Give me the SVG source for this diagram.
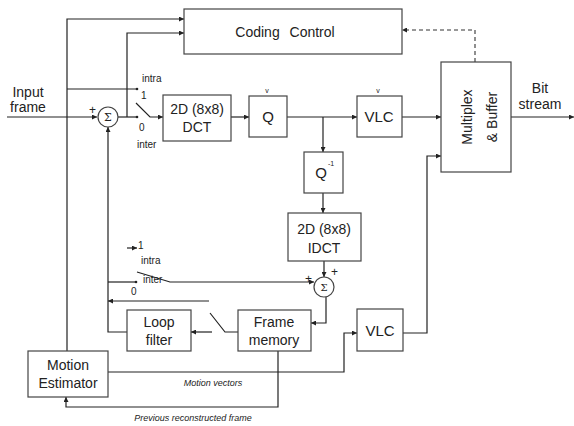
<svg xmlns="http://www.w3.org/2000/svg" width="574" height="426" viewBox="0 0 574 426">
<style>
.b{fill:#fff;stroke:#444;stroke-width:1.2}
.l{fill:none;stroke:#222;stroke-width:1.2}
.d{fill:none;stroke:#333;stroke-width:1.1;stroke-dasharray:4 3}
text{font-family:"Liberation Sans",Arial,sans-serif;fill:#222}
.t{font-size:14px;text-anchor:middle}
.s{font-size:10px}
.i{font-size:9px;font-style:italic;text-anchor:middle}
</style>
<defs>
<marker id="a" viewBox="0 0 8 8" refX="8" refY="4" markerWidth="5" markerHeight="5" orient="auto" markerUnits="userSpaceOnUse">
<path d="M0,0L8,4L0,8z" fill="#222"/>
</marker>
</defs>
<g id="connectors">
<path class="l" d="M67,351V19H184" marker-end="url(#a)"/>
<path class="l" d="M127,117V33H184" marker-end="url(#a)"/>
<path class="l" d="M67,89H137"/>
<circle cx="137" cy="89" r="1.3" fill="#222"/>
<path class="l" d="M7,117H97" marker-end="url(#a)"/>
<path class="l" d="M118,117H137"/>
<circle cx="137" cy="117" r="1.3" fill="#222"/>
<path class="l" d="M136,103L150,117H163" marker-end="url(#a)"/>
<path class="l" d="M231,117H249" marker-end="url(#a)"/>
<path class="l" d="M287,117H357" marker-end="url(#a)"/>
<path class="l" d="M323,117V152" marker-end="url(#a)"/>
<path class="l" d="M323,193V213" marker-end="url(#a)"/>
<path class="l" d="M324,261V277" marker-end="url(#a)"/>
<path class="l" d="M402,117H441" marker-end="url(#a)"/>
<path class="l" d="M511,117H574" marker-end="url(#a)"/>
<path class="d" d="M475,62V30H402" marker-end="url(#a)"/>
<path class="l" d="M403,333H427V156H441" marker-end="url(#a)"/>
<path class="l" d="M108,372H344V333H357" marker-end="url(#a)"/>
<path class="l" d="M278,351V407H66V397" marker-end="url(#a)"/>
<path class="l" d="M127,332H108V127" marker-end="url(#a)"/>
<path class="l" d="M127,248H137" marker-end="url(#a)"/>
<path class="l" d="M108,282H136"/>
<circle cx="136" cy="282" r="1.3" fill="#222"/>
<path class="l" d="M137,272L170,282H314" marker-end="url(#a)"/>
<path class="l" d="M326,297V323H311" marker-end="url(#a)"/>
<path class="l" d="M209,301H108" marker-end="url(#a)"/>
<path class="l" d="M238,332H225L210,313"/>
<path class="l" d="M212,332H191" marker-end="url(#a)"/>
</g>
<g id="coding-control"><rect class="b" x="184" y="9" width="218" height="45"/><text class="t" x="285" y="37" style="font-size:14px;word-spacing:6px">Coding Control</text></g>
<g id="input"><text class="t" x="28" y="97">Input</text><text class="t" x="28" y="112">frame</text></g>
<g id="sum1"><circle class="b" cx="108" cy="117" r="10"/><text x="108" y="121" style="font-size:11px;text-anchor:middle;font-family:'DejaVu Serif',serif">Σ</text><text x="89" y="114" style="font-size:12px">+</text></g>
<g id="switch1"><text class="s" x="142" y="82">intra</text><text class="s" x="141" y="99">1</text><text class="s" x="139" y="131">0</text><text class="s" x="137" y="148">inter</text></g>
<g id="dct"><rect class="b" x="163" y="95" width="68" height="46"/><text class="t" x="197" y="114">2D (8x8)</text><text class="t" x="197" y="132">DCT</text></g>
<g id="q"><rect class="b" x="249" y="96" width="38" height="41"/><text class="t" x="268" y="122" style="font-size:15px">Q</text><text x="267" y="93" style="font-size:7px;text-anchor:middle">v</text></g>
<g id="vlc1"><rect class="b" x="357" y="96" width="45" height="41"/><text class="t" x="379" y="122" style="font-size:15px">VLC</text><text x="378" y="93" style="font-size:7px;text-anchor:middle">v</text></g>
<g id="mux"><rect class="b" x="441" y="62" width="70" height="110"/><text class="t" transform="translate(472,117) rotate(-90)">Multiplex</text><text class="t" transform="translate(497,117) rotate(-90)">&amp; Buffer</text></g>
<g id="bitstream"><text class="t" x="540" y="93">Bit</text><text class="t" x="540" y="109">stream</text></g>
<g id="qinv"><rect class="b" x="304" y="152" width="39" height="41"/><text class="t" x="321" y="178" style="font-size:15px">Q</text><text x="328" y="166" style="font-size:7px">-1</text></g>
<g id="idct"><rect class="b" x="288" y="213" width="73" height="48"/><text class="t" x="324" y="234">2D (8x8)</text><text class="t" x="324" y="253">IDCT</text></g>
<g id="sum2"><circle class="b" cx="324" cy="287" r="10"/><text x="324" y="291" style="font-size:10px;text-anchor:middle;font-family:'DejaVu Serif',serif">Σ</text><text x="305" y="283" style="font-size:12px">+</text><text x="331" y="276" style="font-size:12px">+</text></g>
<g id="switch2"><text class="s" x="138" y="249">1</text><text class="s" x="141" y="264">intra</text><text class="s" x="143" y="283">inter</text><text class="s" x="131" y="295">0</text></g>
<g id="loop-filter"><rect class="b" x="127" y="310" width="64" height="41"/><text class="t" x="159" y="327">Loop</text><text class="t" x="159" y="345">filter</text></g>
<g id="frame-memory"><rect class="b" x="238" y="310" width="73" height="41"/><text class="t" x="274" y="327">Frame</text><text class="t" x="274" y="345">memory</text></g>
<g id="vlc2"><rect class="b" x="357" y="309" width="46" height="42"/><text class="t" x="380" y="336" style="font-size:15px">VLC</text></g>
<g id="motion-estimator"><rect class="b" x="28" y="351" width="80" height="46"/><text class="t" x="68" y="370">Motion</text><text class="t" x="68" y="388">Estimator</text></g>
<g id="labels"><text class="i" x="213" y="386">Motion vectors</text><text class="i" x="193" y="421">Previous reconstructed frame</text></g>
</svg>
